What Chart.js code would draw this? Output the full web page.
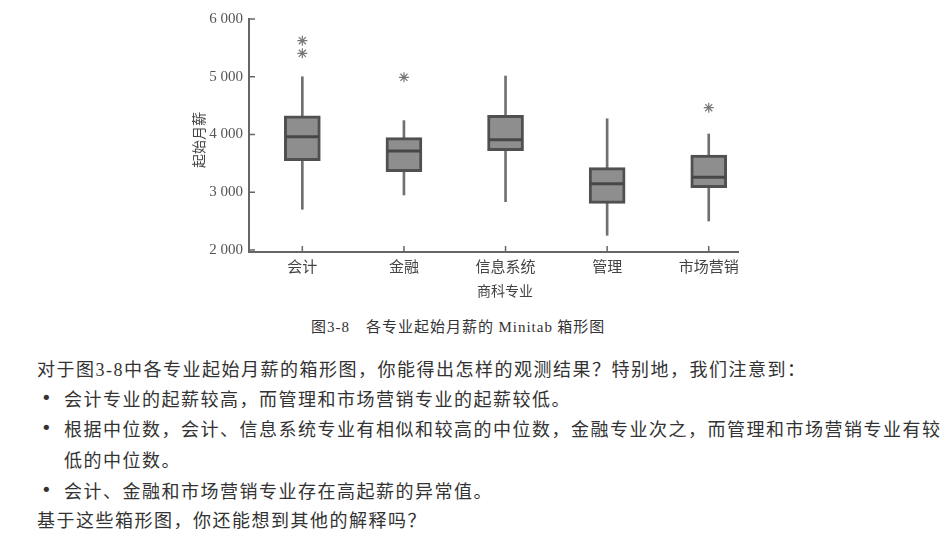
<!DOCTYPE html>
<html><head><meta charset="utf-8">
<script src="https://cdn.jsdelivr.net/npm/chart.js@4.4.1/dist/chart.umd.min.js"></script>
<style>
body{margin:0;background:#fff;width:951px;height:534px;overflow:hidden;position:relative;font-family:"Noto Sans CJK SC",sans-serif;color:#333}
#wrap{position:absolute;left:0;top:0;width:951px;height:305px}
.t{position:absolute;white-space:nowrap;font-size:18px;letter-spacing:1.5px;line-height:24px}
.cap{font-size:15px;letter-spacing:1px}
.lat{font-family:"Liberation Serif",serif}
.b{position:absolute;font-size:18px;line-height:24px;font-family:"DejaVu Sans",sans-serif}
</style></head><body>
<div id="wrap"><canvas id="c" width="951" height="305"></canvas></div>
<div class="t cap" style="left:311px;top:314px">图<span class="lat">3-8</span>　各专业起始月薪的 <span class="lat">Minitab</span> 箱形图</div>
<div class="t" style="left:37px;top:356px">对于图<span class="lat">3-8</span>中各专业起始月薪的箱形图，你能得出怎样的观测结果？特别地，我们注意到：</div>
<div class="b" style="left:41px;top:386px">•</div>
<div class="t" style="left:64px;top:386px">会计专业的起薪较高，而管理和市场营销专业的起薪较低。</div>
<div class="b" style="left:41px;top:416px">•</div>
<div class="t" style="left:64px;top:416px">根据中位数，会计、信息系统专业有相似和较高的中位数，金融专业次之，而管理和市场营销专业有较</div>
<div class="t" style="left:64px;top:447px">低的中位数。</div>
<div class="b" style="left:41px;top:478px">•</div>
<div class="t" style="left:64px;top:478px">会计、金融和市场营销专业存在高起薪的异常值。</div>
<div class="t" style="left:37px;top:507px">基于这些箱形图，你还能想到其他的解释吗？</div>
<script>
const categories = ['会计', '金融', '信息系统', '管理', '市场营销'];
const whiskerLow = [2705, 2952, 2836, 2254, 2502];
const q1 = [3546, 3356, 3720, 2808, 3078];
const median = [3962, 3714, 3911, 3148, 3260];
const q3 = [4325, 3945, 4333, 3426, 3645];
const whiskerHigh = [5000, 4240, 5013, 4273, 4009];
const outliers = [[5406, 5624], [4990], [], [], [4464]];
const yTicks = [2000, 3000, 4000, 5000, 6000];
const xTitle = '商科专业';
const yTitle = '起始月薪';

const fmt = v => String(v).replace(/\B(?=(\d{3})+(?!\d))/g, ' ');

const boxPlugin = {
  id: 'boxExtras',
  afterDatasetsDraw(chart) {
    const ctx = chart.ctx, ys = chart.scales.y;
    const meta = chart.getDatasetMeta(1);
    ctx.save();
    ctx.strokeStyle = '#474747';
    ctx.lineWidth = 3;
    median.forEach((m, i) => {
      const bar = meta.data[i];
      const half = bar.width / 2 - 1.5;
      const y = ys.getPixelForValue(m);
      ctx.beginPath();
      ctx.moveTo(bar.x - half, y);
      ctx.lineTo(bar.x + half, y);
      ctx.stroke();
    });
    ctx.restore();
  },
  afterDraw(chart) {
    const ctx = chart.ctx, xs = chart.scales.x, ys = chart.scales.y, a = chart.chartArea;
    ctx.save();
    ctx.strokeStyle = '#666';
    ctx.lineWidth = 1.5;
    yTicks.forEach(v => {
      const y = ys.getPixelForValue(v);
      ctx.beginPath(); ctx.moveTo(a.left, y); ctx.lineTo(a.left + 6, y); ctx.stroke();
    });
    categories.forEach((c, i) => {
      const x = xs.getPixelForValue(i + 1);
      ctx.beginPath(); ctx.moveTo(x, a.bottom); ctx.lineTo(x, a.bottom - 6); ctx.stroke();
    });
    ctx.fillStyle = '#444';
    ctx.font = '14px "Noto Sans CJK SC"';
    ctx.textAlign = 'center';
    ctx.textBaseline = 'middle';
    ctx.fillText(xTitle, 505, 291);
    ctx.translate(199, 140);
    ctx.rotate(-Math.PI / 2);
    ctx.fillText(yTitle, 0, 0);
    ctx.restore();
  }
};

new Chart(document.getElementById('c'), {
  type: 'bar',
  data: {
    datasets: [
      {
        type: 'scatter',
        data: outliers.flatMap((arr, i) => arr.map(v => ({x: i + 1, y: v}))),
        pointStyle: 'star',
        radius: 5,
        borderColor: '#777',
        borderWidth: 1.2,
        backgroundColor: '#777',
        order: 0
      },
      {
        data: categories.map((c, i) => ({x: i + 1, y: [q1[i], q3[i]]})),
        backgroundColor: '#8e8e8e',
        borderColor: '#505050',
        borderWidth: 3,
        borderSkipped: false,
        barThickness: 36,
        grouped: false,
        order: 1
      },
      {
        data: categories.map((c, i) => ({x: i + 1, y: [whiskerLow[i], whiskerHigh[i]]})),
        backgroundColor: '#707070',
        borderWidth: 0,
        barThickness: 2,
        grouped: false,
        order: 2
      }
    ]
  },
  options: {
    responsive: false,
    animation: false,
    events: [],
    layout: {padding: {left: 180, right: 213, top: 19, bottom: 0}},
    plugins: {legend: {display: false}, tooltip: {enabled: false}},
    scales: {
      x: {
        type: 'linear',
        offset: false,
        min: 0.475,
        max: 5.288,
        afterBuildTicks: s => { s.ticks = categories.map((c, i) => ({value: i + 1})); },
        afterFit: s => { s.height = 53; },
        ticks: {
          callback: v => categories[Math.round(v) - 1],
          font: {family: '"Noto Sans CJK SC"', size: 15},
          color: '#444',
          padding: 5,
          autoSkip: false,
          maxRotation: 0
        },
        grid: {display: false, drawTicks: false, offset: false},
        border: {color: '#666', width: 2}
      },
      y: {
        min: 1965,
        max: 6000,
        afterBuildTicks: s => { s.ticks = yTicks.map(v => ({value: v})); },
        afterFit: s => { s.width = 69; },
        ticks: {
          callback: v => fmt(v),
          font: {family: '"Liberation Serif"', size: 15},
          color: '#555',
          padding: 6
        },
        grid: {display: false, drawTicks: false},
        border: {color: '#666', width: 2}
      }
    }
  },
  plugins: [boxPlugin]
});
</script>
</body></html>
